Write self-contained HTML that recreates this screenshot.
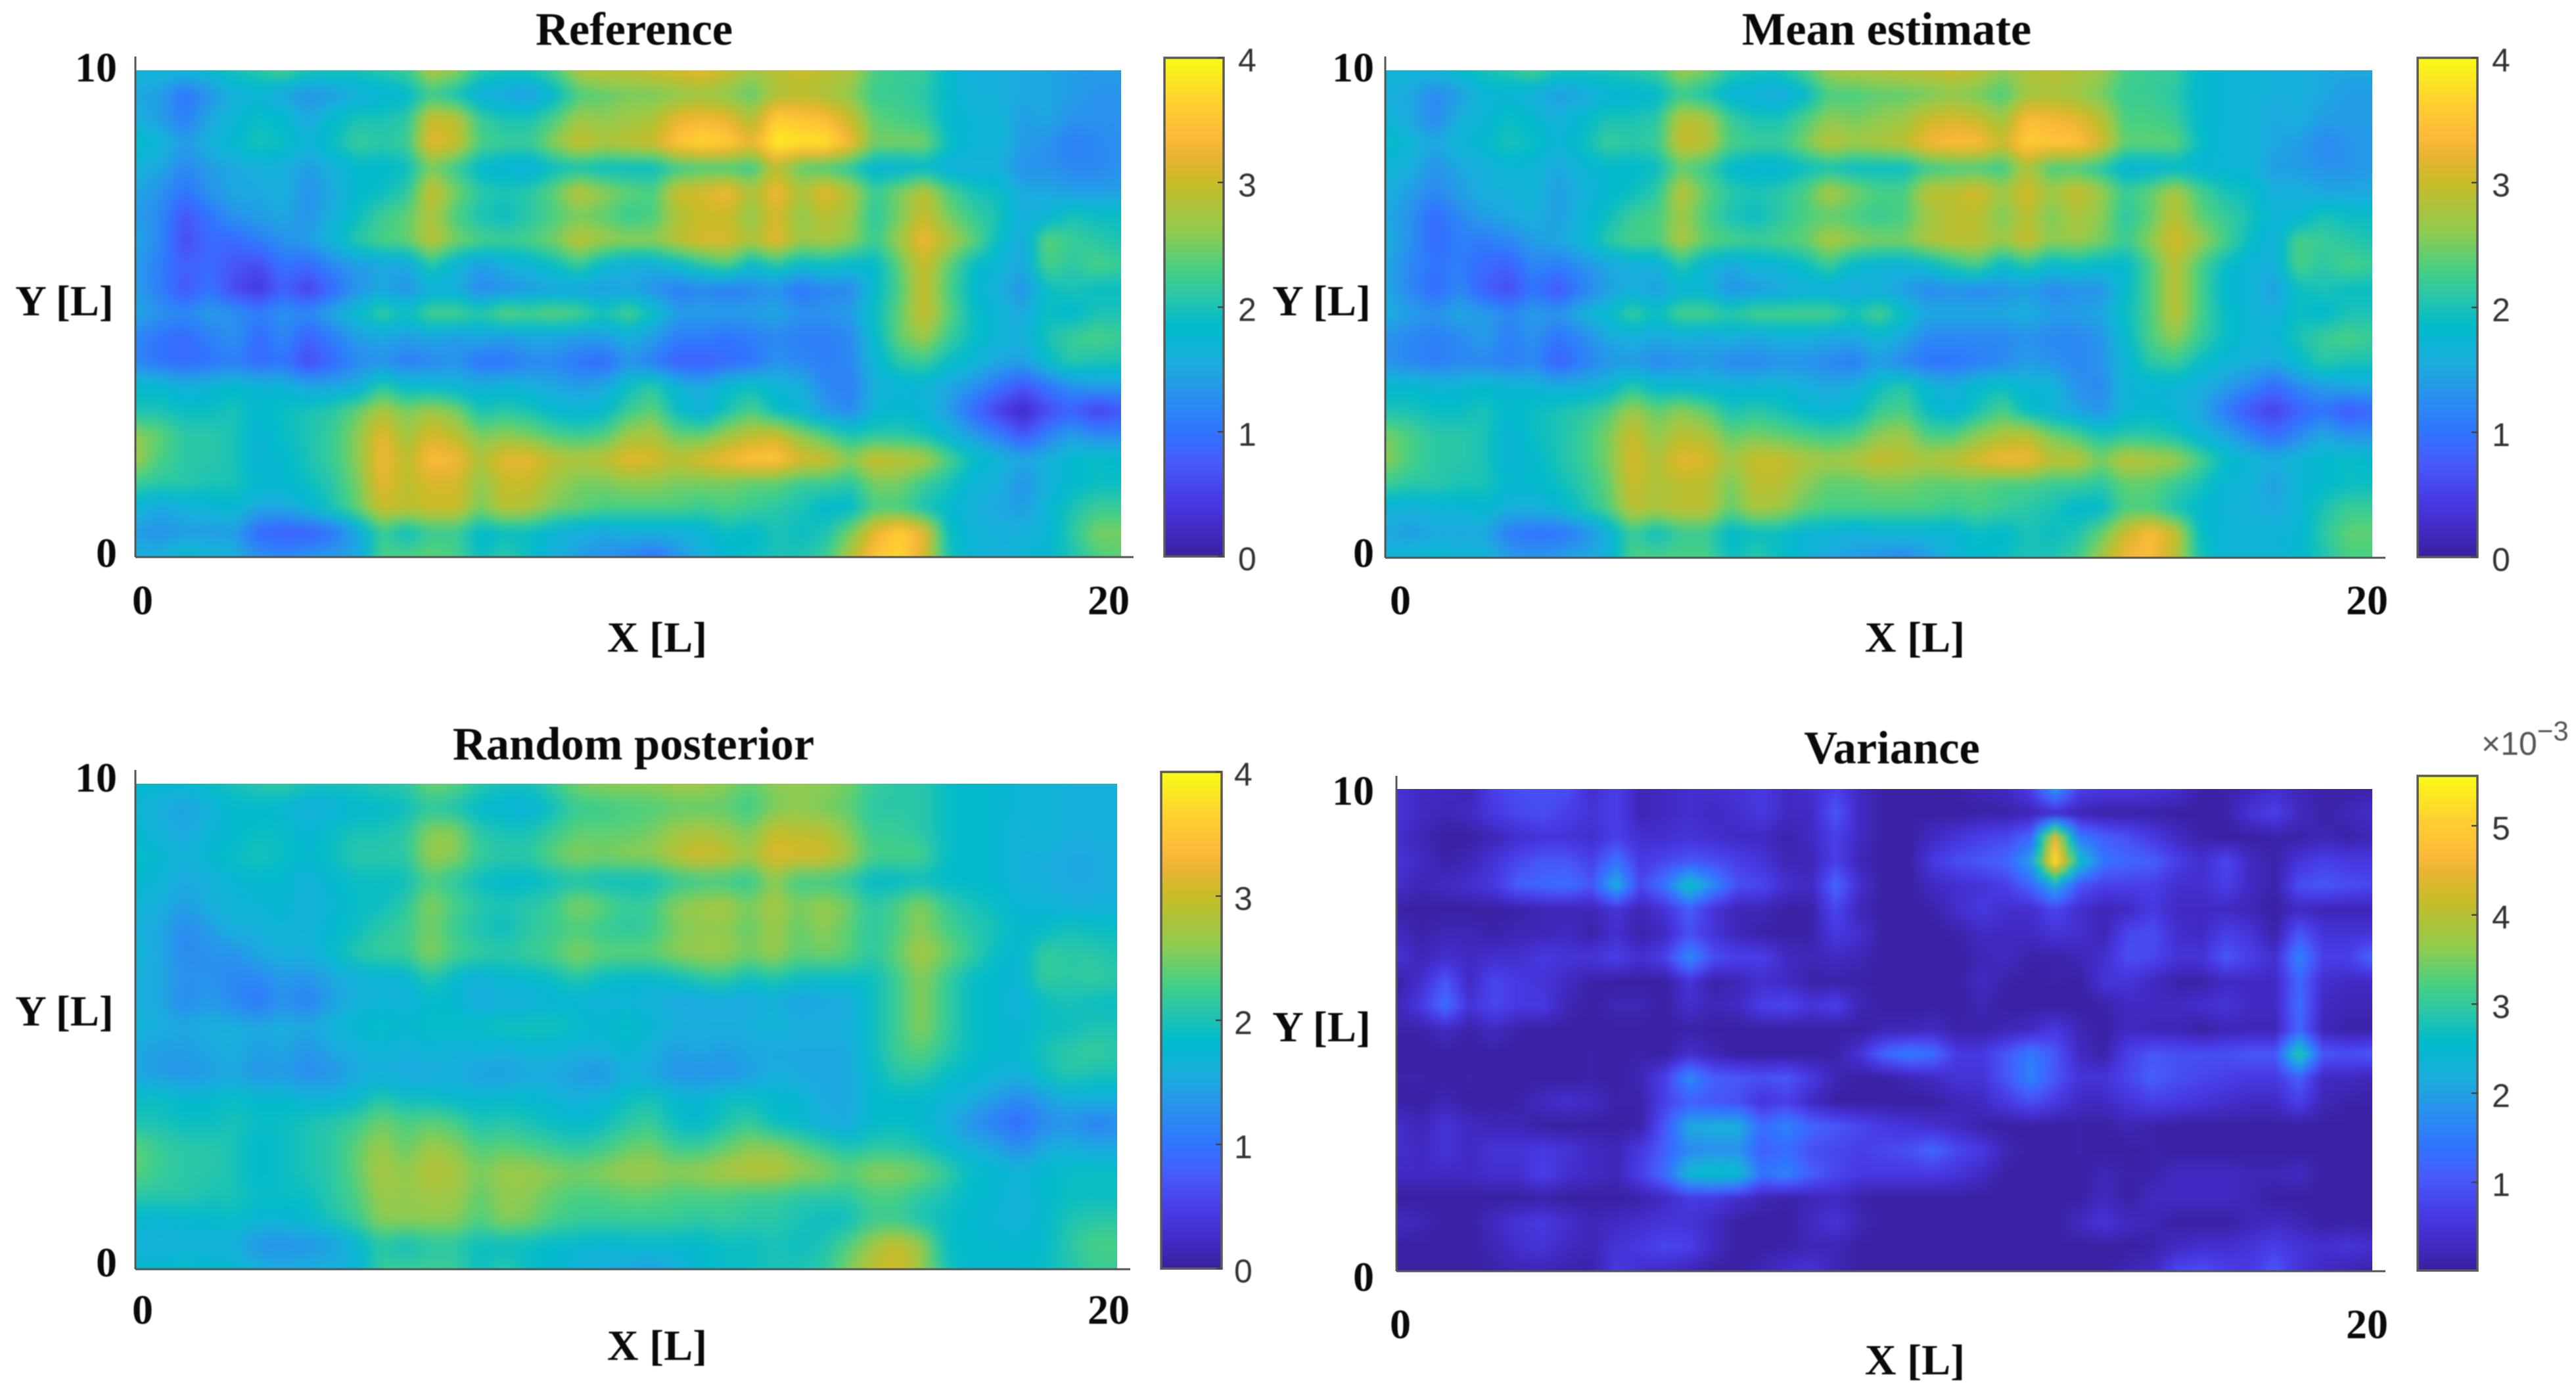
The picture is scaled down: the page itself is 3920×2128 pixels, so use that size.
<!DOCTYPE html>
<html lang="en">
<head>
<meta charset="utf-8">
<title>Reference, mean estimate, random posterior and variance fields</title>
<style>
html,body{margin:0;padding:0;background:#fff;}
body{width:3920px;height:2128px;overflow:hidden;}
svg{display:block;}
.serif{font-family:"Liberation Serif","Times New Roman",serif;font-weight:700;fill:#0a0a0a;}
.sans{font-family:"Liberation Sans",Arial,sans-serif;fill:#333;}
.soft-text text{filter:blur(0.8px);}
</style>
</head>
<body>
<svg id="chart" xmlns="http://www.w3.org/2000/svg" width="3920" height="2128" viewBox="0 0 3920 2128">
<defs>
<filter id="soft-mid" x="-5%" y="-5%" width="110%" height="110%" color-interpolation-filters="sRGB"><feGaussianBlur stdDeviation="7"/></filter>
<filter id="soft-wide" x="-5%" y="-5%" width="110%" height="110%" color-interpolation-filters="sRGB"><feGaussianBlur stdDeviation="11"/></filter>
<filter id="soft-fine" x="-5%" y="-5%" width="110%" height="110%" color-interpolation-filters="sRGB"><feGaussianBlur stdDeviation="4.5"/></filter>
</defs>
</svg>
<script>
const xDomain = [0, 20];
const yDomain = [0, 10];
const xTickValues = [0, 20];
const yTickValues = [0, 10];
const meanScaleTicks = [0, 1, 2, 3, 4];
const varianceScaleTicks = [1, 2, 3, 4, 5];
const meanScaleRange = [0, 4];
const varianceScaleRange = [0.01, 5.56];

const referenceValues = [
[1.7,1.7,1.7,1.8,2.0,2.1,2.3,2.0,2.0,2.0,2.1,2.2,2.8,2.6,2.1,2.0,2.0,2.3,2.8,2.9,2.9,3.0,3.1,3.2,3.0,2.7,2.9,3.0,2.9,2.8,2.3,2.2,2.2,1.8,1.6,1.6,1.5,1.5,1.4,1.4,1.4],
[1.5,1.4,1.0,1.3,1.6,1.7,1.5,1.3,1.4,1.6,1.7,1.8,2.2,2.0,1.6,1.5,1.4,1.8,2.3,2.4,2.5,2.5,2.6,2.7,2.6,2.4,2.8,2.9,2.8,2.6,2.2,2.2,2.1,1.8,1.6,1.6,1.5,1.5,1.4,1.3,1.3],
[1.6,1.4,1.1,1.5,1.7,1.9,1.8,1.5,1.8,2.0,2.0,2.1,3.0,2.9,2.2,2.0,2.0,2.3,2.7,2.6,2.7,2.8,3.2,3.3,3.2,2.8,3.6,3.5,3.4,3.0,2.4,2.3,2.2,1.8,1.7,1.7,1.4,1.5,1.3,1.3,1.3],
[1.9,1.7,1.4,1.6,1.8,2.0,1.9,1.7,1.9,2.2,2.1,2.2,3.2,3.0,2.3,2.2,2.2,2.6,3.0,2.8,2.9,3.0,3.5,3.7,3.6,3.2,3.9,3.8,3.8,3.3,2.5,2.5,2.5,1.9,1.7,1.7,1.4,1.3,1.1,1.2,1.3],
[1.6,1.5,1.2,1.4,1.5,1.6,1.6,1.4,1.6,1.8,1.8,1.9,2.5,2.2,1.8,1.7,1.6,1.9,2.0,1.9,1.9,1.9,2.2,2.3,2.3,2.2,2.9,2.4,2.3,2.1,1.7,1.7,1.8,1.6,1.6,1.6,1.3,1.3,1.2,1.2,1.3],
[1.5,1.3,1.0,1.3,1.5,1.5,1.6,1.3,1.5,1.8,1.9,2.1,3.0,2.5,2.1,2.0,2.1,2.4,2.9,2.6,2.4,2.3,3.0,3.1,3.3,2.8,3.3,2.8,3.2,2.8,2.2,2.5,2.9,2.3,2.0,1.9,1.5,1.5,1.4,1.4,1.4],
[1.4,1.2,0.7,1.0,1.3,1.4,1.5,1.3,1.6,1.9,2.2,2.4,2.8,2.3,2.0,1.9,2.1,2.3,2.5,2.4,2.2,2.3,2.8,3.0,3.0,2.6,3.1,2.6,2.9,2.7,2.1,2.5,3.0,2.5,2.2,2.0,1.6,1.7,2.0,1.9,1.9],
[1.5,1.2,0.6,0.9,0.9,1.1,1.3,1.4,1.7,2.1,2.3,2.4,2.9,2.5,2.3,2.2,2.3,2.5,2.9,2.7,2.6,2.6,2.9,3.1,3.1,2.8,3.2,2.7,2.8,2.6,2.2,2.7,3.3,2.8,2.4,1.9,1.5,2.4,2.2,2.1,2.0],
[1.4,1.1,0.8,0.9,0.7,0.6,1.0,0.9,1.2,1.4,1.5,1.5,2.1,1.7,1.4,1.6,1.7,1.9,2.2,1.8,1.6,1.6,1.8,2.1,2.3,1.8,2.1,1.8,1.9,1.8,1.8,2.4,3.0,2.4,1.9,1.7,1.5,2.3,2.1,2.3,2.2],
[1.4,1.1,0.7,1.0,0.6,0.4,0.8,0.5,0.9,1.3,1.5,1.3,1.6,1.6,1.2,1.3,1.4,1.5,1.5,1.4,1.5,1.3,1.1,1.2,1.1,1.2,1.3,1.0,1.2,1.2,1.8,2.3,3.0,2.3,1.8,1.6,1.3,1.9,2.0,1.9,1.9],
[1.5,1.3,1.2,1.4,1.3,1.1,1.3,1.2,1.5,1.8,2.2,1.9,2.3,2.3,2.1,2.4,2.3,2.4,2.3,2.0,2.3,1.9,1.4,1.4,1.4,1.4,1.5,1.3,1.3,1.4,1.9,2.4,3.0,2.4,1.9,1.7,1.5,1.9,1.8,2.0,2.0],
[1.2,1.0,0.9,1.1,1.3,0.9,1.2,0.8,1.1,1.4,1.5,1.4,1.5,1.4,1.5,1.4,1.5,1.5,1.4,1.4,1.6,1.4,1.1,1.1,1.0,1.1,1.2,1.1,1.1,1.2,1.8,2.4,2.7,2.2,1.9,1.7,1.6,2.0,2.2,2.3,2.2],
[1.2,1.0,0.9,1.0,1.1,0.9,1.0,0.6,0.9,1.2,1.3,1.1,1.2,1.3,1.0,1.0,1.2,1.2,1.0,0.9,1.3,1.1,0.8,0.8,0.9,1.0,1.3,1.2,1.1,1.2,1.7,2.1,2.2,1.9,1.7,1.5,1.4,1.8,2.1,2.0,2.0],
[1.8,1.8,1.6,1.7,1.8,1.7,1.7,1.5,1.5,1.6,2.1,1.8,1.8,1.7,1.6,1.7,1.6,1.5,1.4,1.5,1.9,2.1,1.7,1.5,1.8,1.9,1.7,1.6,1.2,1.1,1.6,1.7,1.7,1.5,1.3,1.0,0.7,1.0,1.3,1.4,1.4],
[2.0,2.0,1.9,1.9,2.0,1.8,1.9,2.0,2.1,2.4,2.8,2.5,2.7,2.5,2.0,2.1,2.0,1.8,1.7,1.8,2.2,2.4,1.9,1.6,2.0,2.3,1.9,1.7,1.4,1.2,1.7,1.8,1.7,1.4,0.9,0.5,0.2,0.6,0.8,0.5,0.7],
[2.6,2.4,2.1,2.1,2.0,1.7,1.9,2.0,2.2,2.6,3.2,2.7,3.1,2.9,2.5,2.6,2.5,2.3,2.2,2.3,2.7,2.8,2.4,2.4,2.7,2.9,3.0,2.6,2.3,2.0,2.1,2.1,2.0,1.7,1.4,1.1,0.7,1.1,1.4,1.2,1.2],
[2.7,2.3,2.1,2.1,2.0,1.7,1.8,2.0,2.2,2.6,3.3,2.9,3.4,3.3,2.8,3.2,3.2,2.9,2.8,2.9,3.2,3.1,2.9,3.1,3.3,3.5,3.5,3.1,3.0,2.6,3.0,2.9,2.8,2.3,1.9,1.7,1.5,1.6,1.8,1.9,1.8],
[2.2,2.1,2.1,2.0,2.0,1.8,1.8,1.9,2.1,2.5,3.2,2.9,3.1,3.1,2.6,3.0,3.0,2.7,2.5,2.5,2.6,2.6,2.5,2.5,2.5,2.4,2.4,2.2,2.2,2.1,2.5,2.5,2.2,2.0,1.7,1.6,1.3,1.6,1.8,1.9,1.9],
[1.7,1.5,1.6,1.7,1.8,1.5,1.5,1.7,2.0,2.4,3.0,2.9,3.0,3.0,2.5,2.9,2.8,2.5,2.4,2.3,2.3,2.3,2.3,2.2,2.3,2.2,2.1,2.0,1.8,1.8,2.3,2.3,2.0,1.8,1.6,1.5,1.4,1.7,2.0,2.2,2.2],
[1.4,1.3,1.4,1.4,1.4,0.9,0.8,0.8,1.0,1.5,2.2,1.9,2.2,2.2,1.8,1.9,1.9,1.7,1.6,1.5,1.6,1.6,1.6,1.7,1.9,1.8,2.0,1.9,2.0,2.5,3.2,3.6,3.2,1.9,1.7,1.6,1.6,1.7,2.1,2.5,2.5],
[1.6,1.6,1.8,1.7,1.6,1.3,1.2,1.3,1.4,1.5,2.3,2.3,2.4,2.3,1.9,2.1,1.9,1.6,1.4,1.3,1.2,1.0,1.3,1.6,1.8,1.9,2.0,2.0,2.2,2.8,3.5,3.7,3.1,2.0,1.7,1.6,1.7,1.8,2.0,2.3,2.4]
];

const meanEstimateValues = [
[1.7,1.7,1.7,1.8,2.0,2.1,2.3,2.0,2.0,2.0,2.1,2.2,2.7,2.5,2.1,2.0,2.0,2.3,2.7,2.8,2.8,2.9,2.9,3.0,2.9,2.6,2.8,2.9,2.8,2.7,2.3,2.2,2.2,1.8,1.7,1.7,1.6,1.6,1.5,1.5,1.5],
[1.6,1.5,1.2,1.4,1.7,1.7,1.6,1.4,1.5,1.7,1.7,1.8,2.2,2.0,1.7,1.6,1.5,1.8,2.3,2.3,2.4,2.4,2.5,2.6,2.5,2.3,2.7,2.8,2.7,2.5,2.2,2.2,2.1,1.8,1.7,1.7,1.6,1.6,1.5,1.4,1.4],
[1.7,1.5,1.2,1.6,1.7,1.9,1.8,1.6,1.8,2.0,2.0,2.1,2.9,2.8,2.2,2.0,2.0,2.3,2.6,2.5,2.6,2.7,3.0,3.1,3.0,2.7,3.4,3.3,3.2,2.9,2.3,2.3,2.2,1.8,1.7,1.7,1.5,1.6,1.4,1.4,1.4],
[1.9,1.7,1.5,1.7,1.8,2.0,1.9,1.7,1.9,2.2,2.1,2.2,3.0,2.9,2.3,2.2,2.2,2.5,2.9,2.7,2.8,2.9,3.3,3.4,3.4,3.0,3.6,3.5,3.5,3.1,2.4,2.4,2.4,1.9,1.7,1.7,1.5,1.4,1.2,1.3,1.4],
[1.7,1.6,1.3,1.5,1.6,1.7,1.7,1.5,1.7,1.8,1.8,1.9,2.4,2.2,1.8,1.7,1.7,1.9,2.0,1.9,1.9,1.9,2.2,2.3,2.3,2.2,2.8,2.3,2.3,2.1,1.7,1.7,1.8,1.7,1.7,1.7,1.4,1.4,1.3,1.3,1.4],
[1.6,1.4,1.2,1.4,1.6,1.6,1.7,1.4,1.6,1.8,1.9,2.1,2.9,2.4,2.1,2.0,2.1,2.3,2.8,2.5,2.3,2.3,2.9,2.9,3.1,2.7,3.1,2.7,3.0,2.7,2.2,2.4,2.8,2.3,2.0,1.9,1.6,1.6,1.5,1.5,1.5],
[1.5,1.3,0.9,1.2,1.4,1.5,1.6,1.4,1.7,1.9,2.2,2.3,2.7,2.3,2.0,1.9,2.1,2.3,2.4,2.3,2.2,2.3,2.7,2.9,2.9,2.5,2.9,2.5,2.8,2.6,2.1,2.4,2.9,2.4,2.2,2.0,1.7,1.7,2.0,1.9,1.9],
[1.6,1.3,0.9,1.1,1.1,1.2,1.4,1.5,1.7,2.1,2.3,2.3,2.8,2.4,2.3,2.2,2.3,2.4,2.8,2.6,2.5,2.5,2.8,2.9,2.9,2.7,3.0,2.6,2.7,2.5,2.2,2.6,3.1,2.7,2.3,1.9,1.6,2.3,2.2,2.1,2.0],
[1.5,1.2,1.0,1.1,0.9,0.8,1.2,1.1,1.3,1.5,1.6,1.6,2.1,1.7,1.5,1.7,1.7,1.9,2.2,1.8,1.7,1.7,1.8,2.1,2.3,1.8,2.1,1.8,1.9,1.8,1.8,2.3,2.9,2.3,1.9,1.7,1.6,2.3,2.1,2.3,2.2],
[1.5,1.2,0.9,1.2,0.8,0.6,1.0,0.7,1.1,1.4,1.6,1.4,1.7,1.7,1.3,1.4,1.5,1.6,1.6,1.5,1.6,1.4,1.2,1.3,1.2,1.3,1.4,1.2,1.3,1.3,1.8,2.3,2.9,2.3,1.8,1.7,1.4,1.9,2.0,1.9,1.9],
[1.6,1.4,1.3,1.5,1.4,1.2,1.4,1.3,1.6,1.8,2.2,1.9,2.3,2.3,2.1,2.3,2.3,2.3,2.3,2.0,2.3,1.9,1.5,1.5,1.5,1.5,1.6,1.4,1.4,1.5,1.9,2.3,2.9,2.3,1.9,1.7,1.6,1.9,1.8,2.0,2.0],
[1.3,1.2,1.1,1.2,1.4,1.1,1.3,1.0,1.2,1.5,1.6,1.5,1.6,1.5,1.6,1.5,1.6,1.6,1.5,1.5,1.7,1.5,1.2,1.2,1.2,1.2,1.3,1.2,1.2,1.3,1.8,2.3,2.6,2.2,1.9,1.7,1.7,2.0,2.2,2.3,2.2],
[1.3,1.2,1.1,1.2,1.2,1.1,1.2,0.8,1.1,1.3,1.4,1.2,1.3,1.4,1.2,1.2,1.3,1.3,1.2,1.1,1.4,1.2,1.0,1.0,1.1,1.2,1.4,1.3,1.2,1.3,1.7,2.1,2.2,1.9,1.7,1.6,1.5,1.8,2.1,2.0,2.0],
[1.8,1.8,1.7,1.7,1.8,1.7,1.7,1.6,1.6,1.7,2.1,1.8,1.8,1.7,1.7,1.7,1.7,1.6,1.5,1.6,1.9,2.1,1.7,1.6,1.8,1.9,1.7,1.7,1.3,1.2,1.7,1.7,1.7,1.6,1.4,1.2,0.9,1.2,1.4,1.5,1.5],
[2.0,2.0,1.9,1.9,2.0,1.8,1.9,2.0,2.1,2.3,2.7,2.4,2.6,2.4,2.0,2.1,2.0,1.8,1.7,1.8,2.2,2.3,1.9,1.7,2.0,2.3,1.9,1.7,1.5,1.3,1.7,1.8,1.7,1.5,1.1,0.7,0.5,0.8,1.0,0.7,0.9],
[2.5,2.3,2.1,2.1,2.0,1.7,1.9,2.0,2.2,2.5,3.0,2.6,2.9,2.8,2.4,2.5,2.4,2.3,2.2,2.3,2.6,2.7,2.3,2.3,2.6,2.8,2.9,2.5,2.3,2.0,2.1,2.1,2.0,1.7,1.5,1.2,0.9,1.2,1.5,1.3,1.3],
[2.6,2.3,2.1,2.1,2.0,1.7,1.8,2.0,2.2,2.5,3.1,2.8,3.2,3.1,2.7,3.0,3.0,2.8,2.7,2.8,3.0,2.9,2.8,2.9,3.1,3.3,3.3,2.9,2.9,2.5,2.9,2.8,2.7,2.3,1.9,1.7,1.6,1.7,1.8,1.9,1.8],
[2.2,2.1,2.1,2.0,2.0,1.8,1.8,1.9,2.1,2.4,3.0,2.8,2.9,2.9,2.5,2.9,2.9,2.6,2.4,2.4,2.5,2.5,2.4,2.4,2.4,2.3,2.3,2.2,2.2,2.1,2.4,2.4,2.2,2.0,1.7,1.7,1.4,1.7,1.8,1.9,1.9],
[1.7,1.6,1.7,1.7,1.8,1.6,1.6,1.7,2.0,2.3,2.9,2.8,2.9,2.9,2.4,2.8,2.7,2.4,2.3,2.3,2.3,2.3,2.3,2.2,2.3,2.2,2.1,2.0,1.8,1.8,2.3,2.3,2.0,1.8,1.7,1.6,1.5,1.7,2.0,2.2,2.2],
[1.5,1.4,1.5,1.5,1.5,1.1,1.0,1.0,1.2,1.6,2.2,1.9,2.2,2.2,1.8,1.9,1.9,1.7,1.7,1.6,1.7,1.7,1.7,1.7,1.9,1.8,2.0,1.9,2.0,2.4,3.0,3.4,3.0,1.9,1.7,1.7,1.7,1.7,2.1,2.4,2.4],
[1.7,1.7,1.8,1.7,1.7,1.4,1.3,1.4,1.5,1.6,2.3,2.3,2.3,2.3,1.9,2.1,1.9,1.7,1.5,1.4,1.3,1.2,1.4,1.7,1.8,1.9,2.0,2.0,2.2,2.7,3.3,3.4,2.9,2.0,1.7,1.7,1.7,1.8,2.0,2.3,2.3]
];

const randomPosteriorValues = [
[1.8,1.8,1.8,1.9,2.0,2.1,2.2,2.0,2.0,2.0,2.1,2.1,2.5,2.4,2.1,2.0,2.0,2.2,2.5,2.6,2.6,2.6,2.7,2.7,2.6,2.4,2.6,2.6,2.6,2.5,2.2,2.1,2.1,1.9,1.8,1.8,1.7,1.7,1.6,1.6,1.6],
[1.7,1.6,1.4,1.6,1.8,1.8,1.7,1.6,1.6,1.8,1.8,1.9,2.1,2.0,1.8,1.7,1.6,1.9,2.2,2.2,2.3,2.3,2.4,2.4,2.4,2.2,2.5,2.6,2.5,2.4,2.1,2.1,2.1,1.9,1.8,1.8,1.7,1.7,1.6,1.6,1.6],
[1.8,1.6,1.5,1.7,1.8,1.9,1.9,1.7,1.9,2.0,2.0,2.1,2.6,2.6,2.1,2.0,2.0,2.2,2.4,2.4,2.4,2.5,2.7,2.8,2.7,2.5,3.0,2.9,2.9,2.6,2.2,2.2,2.1,1.9,1.8,1.8,1.6,1.7,1.6,1.6,1.6],
[1.9,1.8,1.6,1.8,1.9,2.0,1.9,1.8,1.9,2.1,2.1,2.1,2.7,2.6,2.2,2.1,2.1,2.4,2.6,2.5,2.6,2.6,2.9,3.1,3.0,2.7,3.2,3.1,3.1,2.8,2.3,2.3,2.3,1.9,1.8,1.8,1.6,1.6,1.5,1.5,1.6],
[1.8,1.7,1.5,1.6,1.7,1.8,1.8,1.6,1.8,1.9,1.9,1.9,2.3,2.1,1.9,1.8,1.8,1.9,2.0,1.9,1.9,1.9,2.1,2.2,2.2,2.1,2.6,2.2,2.2,2.1,1.8,1.8,1.9,1.8,1.8,1.8,1.6,1.6,1.5,1.5,1.6],
[1.7,1.6,1.4,1.6,1.7,1.7,1.8,1.6,1.7,1.9,1.9,2.1,2.6,2.3,2.1,2.0,2.1,2.2,2.6,2.4,2.2,2.2,2.6,2.7,2.8,2.5,2.8,2.5,2.7,2.5,2.1,2.3,2.6,2.2,2.0,1.9,1.7,1.7,1.6,1.6,1.6],
[1.6,1.5,1.2,1.4,1.6,1.6,1.7,1.6,1.8,1.9,2.1,2.2,2.5,2.2,2.0,1.9,2.1,2.2,2.3,2.2,2.1,2.2,2.5,2.6,2.6,2.4,2.7,2.4,2.6,2.4,2.1,2.3,2.6,2.3,2.1,2.0,1.8,1.8,2.0,1.9,1.9],
[1.7,1.5,1.2,1.3,1.3,1.5,1.6,1.6,1.8,2.1,2.2,2.2,2.6,2.3,2.2,2.1,2.2,2.3,2.6,2.4,2.4,2.4,2.6,2.7,2.7,2.5,2.7,2.4,2.5,2.4,2.1,2.4,2.8,2.5,2.2,1.9,1.7,2.2,2.1,2.1,2.0],
[1.6,1.5,1.3,1.3,1.2,1.2,1.4,1.3,1.5,1.6,1.7,1.7,2.1,1.8,1.6,1.8,1.8,1.9,2.1,1.9,1.8,1.8,1.9,2.1,2.2,1.9,2.1,1.9,1.9,1.9,1.9,2.2,2.6,2.2,1.9,1.8,1.7,2.2,2.1,2.2,2.1],
[1.6,1.5,1.2,1.4,1.2,1.0,1.3,1.1,1.4,1.6,1.7,1.6,1.8,1.8,1.5,1.6,1.6,1.7,1.7,1.6,1.7,1.6,1.5,1.5,1.5,1.5,1.6,1.4,1.5,1.5,1.9,2.2,2.6,2.2,1.9,1.8,1.6,1.9,2.0,1.9,1.9],
[1.7,1.6,1.5,1.6,1.6,1.5,1.6,1.5,1.7,1.8,1.9,1.8,1.9,1.9,1.9,2.0,2.0,2.0,1.9,1.8,1.9,1.8,1.6,1.6,1.6,1.6,1.7,1.6,1.6,1.6,1.9,2.2,2.6,2.2,1.9,1.8,1.7,1.9,1.9,2.0,2.0],
[1.5,1.4,1.4,1.5,1.6,1.4,1.5,1.3,1.5,1.6,1.7,1.6,1.7,1.6,1.7,1.6,1.7,1.7,1.6,1.6,1.8,1.6,1.4,1.5,1.4,1.5,1.5,1.5,1.5,1.5,1.9,2.2,2.4,2.1,1.9,1.8,1.8,2.0,2.1,2.2,2.1],
[1.5,1.4,1.3,1.4,1.5,1.3,1.4,1.2,1.3,1.5,1.6,1.5,1.5,1.6,1.4,1.4,1.5,1.5,1.4,1.3,1.6,1.5,1.3,1.3,1.3,1.4,1.6,1.5,1.5,1.5,1.8,2.1,2.1,1.9,1.8,1.7,1.6,1.9,2.1,2.0,2.0],
[1.9,1.9,1.8,1.8,1.9,1.8,1.8,1.7,1.7,1.8,2.1,1.9,1.9,1.8,1.8,1.8,1.8,1.7,1.6,1.7,1.9,2.0,1.8,1.7,1.9,1.9,1.8,1.8,1.5,1.5,1.8,1.8,1.8,1.7,1.6,1.4,1.2,1.4,1.6,1.6,1.6],
[2.0,2.0,1.9,1.9,2.0,1.9,1.9,2.0,2.1,2.2,2.5,2.3,2.4,2.3,2.0,2.1,2.0,1.9,1.8,1.9,2.1,2.2,1.9,1.8,2.0,2.2,1.9,1.8,1.6,1.5,1.8,1.9,1.8,1.6,1.3,1.1,0.9,1.2,1.3,1.1,1.2],
[2.4,2.2,2.1,2.1,2.0,1.8,1.9,2.0,2.1,2.4,2.7,2.4,2.7,2.6,2.3,2.4,2.3,2.2,2.1,2.2,2.4,2.5,2.2,2.2,2.4,2.6,2.6,2.4,2.2,2.0,2.1,2.1,2.0,1.8,1.6,1.5,1.2,1.5,1.6,1.5,1.5],
[2.4,2.2,2.1,2.1,2.0,1.8,1.9,2.0,2.1,2.4,2.8,2.6,2.9,2.8,2.5,2.7,2.7,2.6,2.5,2.6,2.7,2.7,2.6,2.7,2.8,2.9,2.9,2.7,2.6,2.4,2.6,2.6,2.5,2.2,1.9,1.8,1.7,1.8,1.9,1.9,1.9],
[2.1,2.1,2.1,2.0,2.0,1.9,1.9,1.9,2.1,2.3,2.7,2.6,2.7,2.7,2.4,2.6,2.6,2.4,2.3,2.3,2.4,2.4,2.3,2.3,2.3,2.2,2.2,2.1,2.1,2.1,2.3,2.3,2.1,2.0,1.8,1.8,1.6,1.8,1.9,1.9,1.9],
[1.8,1.7,1.8,1.8,1.9,1.7,1.7,1.8,2.0,2.2,2.6,2.6,2.6,2.6,2.3,2.6,2.5,2.3,2.2,2.2,2.2,2.2,2.2,2.1,2.2,2.1,2.1,2.0,1.9,1.9,2.2,2.2,2.0,1.9,1.8,1.7,1.6,1.8,2.0,2.1,2.1],
[1.6,1.6,1.6,1.6,1.6,1.3,1.3,1.3,1.4,1.7,2.1,1.9,2.1,2.1,1.9,1.9,1.9,1.8,1.8,1.7,1.8,1.8,1.8,1.8,1.9,1.9,2.0,1.9,2.0,2.3,2.7,3.0,2.7,1.9,1.8,1.8,1.8,1.8,2.1,2.3,2.3],
[1.8,1.8,1.9,1.8,1.8,1.6,1.5,1.6,1.6,1.7,2.2,2.2,2.2,2.2,1.9,2.1,1.9,1.8,1.6,1.6,1.5,1.4,1.6,1.8,1.9,1.9,2.0,2.0,2.1,2.5,2.9,3.1,2.7,2.0,1.8,1.8,1.8,1.9,2.0,2.2,2.2]
];

const varianceValues = [
[.5,.3,.3,.2,.7,.9,.9,.9,.4,.7,.2,.3,.4,.4,.5,.6,.3,.4,.7,.3,.05,.05,.05,.1,.2,.3,.7,1.9,.7,.6,.6,.5,.4,.1,.1,.2,.4,.2,.1,.1,.1],
[.5,.3,.2,.3,.6,.8,.9,.7,.5,.7,.2,.3,.4,.3,.4,.6,.3,.3,1.0,.3,.05,.05,.05,.05,.1,.1,.2,.4,.2,.1,.1,.1,.05,.05,.1,.5,.7,.3,.1,.2,.4],
[.4,.2,.05,.05,.2,.4,.5,.5,.4,.7,.4,.4,.5,.4,.3,.3,.1,.3,.7,.3,.05,.05,.3,.5,.7,.8,1.2,4.4,1.5,1.1,.9,.6,.3,.1,.05,.05,.1,.1,.2,.1,.2],
[.5,.3,.1,.2,.5,.8,1.0,1.0,.7,1.4,.6,.8,1.0,.9,.7,.5,.2,.2,.7,.2,.05,.05,.6,.9,1.0,1.2,2.0,5.2,2.6,1.4,1.2,1.1,.7,.4,.8,.3,.1,.5,.7,.6,.6],
[.4,.2,.3,.4,.6,1.1,1.2,1.3,1.0,2.2,.8,1.4,2.6,1.7,.9,.8,.4,.3,1.2,.4,.05,.05,.3,.4,.5,.7,1.2,2.2,1.0,.7,.7,.7,.4,.4,.7,.3,.1,.9,1.0,.9,.8],
[.1,.05,.05,.05,.05,.1,.2,.2,.2,.5,.2,.5,1.1,.5,.2,.2,.05,.1,.8,.2,.05,.05,.1,.4,.6,.4,.4,.8,.4,.2,.3,.6,.3,.3,.3,.2,.05,.3,.2,.2,.2],
[.3,.1,.2,.2,.1,.2,.2,.3,.1,.4,.1,.3,.9,.5,.2,.1,.05,.1,.6,.4,.05,.05,.05,.1,.3,.3,.3,.5,.4,.2,.8,.9,.4,.3,.7,.5,.1,1.0,.5,.5,.5],
[.5,.2,.4,.3,.4,.4,.6,.5,.5,.7,.4,.7,1.7,.9,.7,.7,.3,.2,.3,.2,.05,.05,.05,.05,.2,.3,.1,.1,.2,.4,.9,.8,.5,.5,1.0,.7,.4,1.6,.7,.7,1.2],
[.05,.4,1.0,.3,.8,.6,.5,.3,.1,.05,.05,.05,.5,.1,.2,.4,.3,.1,.1,.1,.05,.05,.05,.05,.3,.1,.05,.1,.05,.5,.5,.3,.1,.1,.3,.3,.3,1.2,.4,.3,.3],
[.2,.6,1.3,.5,.8,.6,.6,.2,.05,.2,.2,.05,.4,.2,.3,.7,.8,.5,.7,.2,.05,.05,.05,.05,.2,.05,.05,.05,.05,.1,.3,.3,.3,.4,.5,.3,.3,1.3,.3,.2,.2],
[.1,.1,.3,.1,.3,.1,.05,.05,.05,.05,.05,.05,.1,.05,.05,.05,.05,.05,.05,.05,.2,.2,.3,.1,.1,.2,.3,.6,.2,.05,.3,.2,.2,.05,.2,.2,.2,1.2,.2,.1,.1],
[.05,.05,.05,.05,.05,.05,.05,.05,.1,.05,.1,.05,.4,.2,.05,.05,.05,.05,.1,.5,1.2,1.5,1.3,.6,.6,1.0,1.5,1.0,.3,.1,.7,1.0,.9,.9,.9,1.0,1.0,2.8,1.0,.9,1.0],
[.1,.1,.05,.1,.05,.05,.05,.05,.1,.05,.2,.7,1.7,1.1,1.0,.9,1.0,.6,.2,.05,.05,.2,.3,.5,.5,1.0,1.6,1.0,.5,.5,.8,1.1,.9,.8,.7,.6,.6,1.1,.3,.3,.2],
[.1,.05,.2,.05,.05,.1,.3,.4,.3,.1,.1,.7,1.1,1.0,.9,.5,.7,.3,.05,.05,.05,.05,.05,.2,.3,.6,.9,.6,.3,.3,.5,.7,.6,.5,.4,.3,.3,.7,.2,.1,.1],
[.4,.2,.5,.3,.2,.2,.05,.05,.05,.05,.1,1.0,2.1,2.2,2.2,1.3,1.6,1.2,1.0,.8,.6,.5,.4,.3,.1,.05,.05,.05,.1,.05,.2,.1,.05,.05,.05,.05,.05,.05,.05,.05,.05],
[.4,.3,.5,.3,.5,.5,.6,.5,.3,.2,.6,1.1,1.7,1.8,1.8,1.1,1.3,.9,.8,.7,.8,.9,1.2,.8,.6,.2,.05,.05,.1,.05,.05,.1,.05,.05,.05,.05,.05,.05,.05,.05,.05],
[.3,.3,.3,.3,.4,.4,.7,.4,.3,.2,.7,1.3,2.4,2.6,2.5,1.4,1.6,1.1,.8,.6,.6,.6,.6,.5,.3,.05,.05,.05,.05,.2,.1,.1,.3,.3,.3,.2,.2,.3,.05,.05,.05],
[.05,.05,.05,.05,.05,.05,.1,.05,.05,.05,.1,.3,.6,.6,.4,.2,.1,.2,.3,.1,.05,.05,.05,.05,.05,.05,.05,.05,.05,.3,.05,.3,.3,.3,.3,.2,.05,.05,.05,.05,.05],
[.3,.2,.05,.05,.3,.5,.6,.4,.2,.3,.4,.5,.5,.3,.05,.05,.05,.3,.5,.2,.05,.05,.05,.05,.05,.05,.05,.05,.3,.5,.3,.2,.05,.05,.05,.2,.3,.2,.05,.1,.05],
[.05,.05,.05,.05,.2,.4,.5,.3,.2,.5,.6,.8,.7,.3,.05,.05,.1,.2,.2,.05,.05,.05,.05,.05,.05,.05,.05,.05,.05,.05,.05,.1,.3,.4,.4,.5,.7,.5,.4,.5,.4],
[.05,.05,.05,.05,.1,.2,.2,.1,.1,.6,.4,.3,.2,.05,.05,.2,.4,.5,.2,.05,.05,.05,.05,.05,.05,.05,.05,.05,.05,.05,.2,.3,.8,.9,.7,.6,1.0,.5,.3,.2,.1]
];

const svgNS = 'http://www.w3.org/2000/svg';
const svg = document.getElementById('chart');
const defs = svg.querySelector('defs');
const cellSubdivision = 3;
const colorStops = [
  [0.00,[58,31,158]],[0.06,[66,44,200]],[0.12,[72,60,232]],[0.19,[70,92,252]],
  [0.25,[48,116,255]],[0.32,[42,144,238]],[0.39,[26,174,220]],[0.46,[0,186,204]],
  [0.52,[40,198,170]],[0.58,[74,208,128]],[0.65,[143,203,80]],[0.75,[201,188,40]],
  [0.80,[230,180,50]],[0.84,[253,185,58]],[0.91,[255,208,48]],[1.00,[249,251,21]]
];

function colorAt(t) {
  const c = Math.max(0, Math.min(1, t));
  for (let k = 1; k < colorStops.length; k++) {
    if (c <= colorStops[k][0]) {
      const a = colorStops[k - 1], b = colorStops[k];
      const f = (c - a[0]) / (b[0] - a[0]);
      const m = [0, 1, 2].map(n => Math.round(a[1][n] + (b[1][n] - a[1][n]) * f));
      return 'rgb(' + m.join(',') + ')';
    }
  }
  return 'rgb(249,251,21)';
}

function make(tag, attrs, parent) {
  const el = document.createElementNS(svgNS, tag);
  for (const k in attrs) el.setAttribute(k, attrs[k]);
  parent.appendChild(el);
  return el;
}

function addLabel(parent, cls, x, y, size, anchor, content, name) {
  const t = make('text', {class: cls, x: x, y: y, 'font-size': size, 'text-anchor': anchor}, parent);
  t.textContent = content;
  
  
  return t;
}

function sampleGrid(values, gx, gy) {
  const rows = values.length, cols = values[0].length;
  const i0 = Math.min(Math.floor(gx), cols - 1), j0 = Math.min(Math.floor(gy), rows - 1);
  const i1 = Math.min(i0 + 1, cols - 1), j1 = Math.min(j0 + 1, rows - 1);
  const fx = gx - i0, fy = gy - j0;
  const read = (r, c) => values[r][c] !== undefined ? values[r][c] : values[r][values[r].length - 1];
  const top = read(j0, i0) * (1 - fx) + read(j0, i1) * fx;
  const low = read(j1, i0) * (1 - fx) + read(j1, i1) * fx;
  return top * (1 - fy) + low * fy;
}

function drawPanel(p) {
  const group = make('g', {class: 'soft-text'}, svg);
  
  

  const xScale = v => p.left + (v - xDomain[0]) / (xDomain[1] - xDomain[0]) * (p.right - p.left);
  const yScale = v => p.bottom - (v - yDomain[0]) / (yDomain[1] - yDomain[0]) * (p.bottom - p.top);
  const colorScale = v => colorAt((v - p.range[0]) / (p.range[1] - p.range[0]));

  const clip = make('clipPath', {id: p.id + '-clip'}, defs);
  make('rect', {x: p.left, y: p.top, width: p.right - p.left, height: p.bottom - p.top}, clip);

  const clipped = make('g', {'clip-path': 'url(#' + p.id + '-clip)'}, group);
  const heat = make('g', {filter: 'url(#' + p.filter + ')', 'shape-rendering': 'crispEdges'}, clipped);
  
  

  const nRows = p.values.length;
  const nCols = p.values[0].length;
  const subRows = (nRows - 1) * cellSubdivision;
  const subCols = (nCols - 1) * cellSubdivision;
  const dx = (xDomain[1] - xDomain[0]) / subCols;
  const dy = (yDomain[1] - yDomain[0]) / subRows;
  const bleed = 60;
  for (let j = 0; j <= subRows; j++) {
    for (let i = 0; i <= subCols; i++) {
      const value = sampleGrid(p.values, i / cellSubdivision, j / cellSubdivision);
      const cx = i * dx, cy = yDomain[1] - j * dy;
      let x0 = xScale(cx - dx / 2), x1 = xScale(cx + dx / 2);
      let y0 = yScale(cy + dy / 2), y1 = yScale(cy - dy / 2);
      if (i === 0) x0 -= bleed;
      if (i === subCols) x1 += bleed;
      if (j === 0) y0 -= bleed;
      if (j === subRows) y1 += bleed;
      const cell = make('rect', {x: x0.toFixed(1), y: y0.toFixed(1), width: (x1 - x0 + 1).toFixed(1), height: (y1 - y0 + 1).toFixed(1), fill: colorScale(value)}, heat);
      
      
    }
  }

  const axisY = make('line', {x1: p.left, x2: p.left, y1: p.axisTop, y2: p.bottom + 1, stroke: '#555', 'stroke-width': 3}, group);
  
  
  const axisX = make('line', {x1: p.left, x2: p.axisRight, y1: p.bottom + 1, y2: p.bottom + 1, stroke: '#555', 'stroke-width': 3}, group);
  
  

  addLabel(group, 'serif', p.titleX, p.titleY, 70.5, 'middle', p.title, 'chart-title');
  addLabel(group, 'serif', p.xLabelX, p.xLabelY, 66, 'middle', 'X [L]', 'x-axis-title');
  addLabel(group, 'serif', p.yLabelX, p.yLabelY, 66, 'middle', 'Y [L]', 'y-axis-title');

  xTickValues.forEach((v, k) => {
    addLabel(group, 'serif', p.xTickX[k], p.xTickY, 64, 'middle', String(v), 'x-tick-label');
  });
  yTickValues.forEach((v, k) => {
    addLabel(group, 'serif', p.yTickRight, p.yTickY[k], 64, 'end', String(v), 'y-tick-label');
  });

  const gradient = make('linearGradient', {id: p.id + '-ramp', x1: 0, y1: 1, x2: 0, y2: 0}, defs);
  colorStops.forEach(s => {
    make('stop', {offset: s[0], 'stop-color': 'rgb(' + s[1].join(',') + ')'}, gradient);
  });
  const bar = make('rect', {x: p.barLeft, y: p.barTop, width: p.barRight - p.barLeft, height: p.barBottom - p.barTop, fill: 'url(#' + p.id + '-ramp)', stroke: '#5a5a5a', 'stroke-width': 3.5}, group);
  
  

  const barScale = v => p.barBottom - (v - p.range[0]) / (p.range[1] - p.range[0]) * (p.barBottom - p.barTop);
  p.ticks.forEach(v => {
    const y = barScale(v);
    const tick = make('line', {x1: p.barRight - 9, x2: p.barRight, y1: y, y2: y, stroke: '#444', 'stroke-width': 2.5}, group);
    
    
    addLabel(group, 'sans', p.barLabelX, y + 21, 50, 'start', String(v), 'colorbar-tick-label');
  });
  return group;
}

const panels = [
  {id:'reference', title:'Reference', values:referenceValues, range:meanScaleRange, ticks:meanScaleTicks, filter:'soft-mid',
   left:206,right:1706,top:107,bottom:847,axisTop:86,axisRight:1725,
   titleX:965,titleY:68,xLabelX:1000,xLabelY:992,yLabelX:98,yLabelY:480,
   xTickX:[217,1687],xTickY:935,yTickRight:178,yTickY:[863,124],
   barLeft:1772,barRight:1862,barTop:88,barBottom:847,barLabelX:1884},
  {id:'mean-estimate', title:'Mean estimate', values:meanEstimateValues, range:meanScaleRange, ticks:meanScaleTicks, filter:'soft-mid',
   left:2108,right:3610,top:107,bottom:848,axisTop:86,axisRight:3630,
   titleX:2871,titleY:68,xLabelX:2914,xLabelY:992,yLabelX:2011,yLabelY:480,
   xTickX:[2131,3602],xTickY:935,yTickRight:2091,yTickY:[863,124],
   barLeft:3679,barRight:3770,barTop:88,barBottom:848,barLabelX:3792},
  {id:'random-posterior', title:'Random posterior', values:randomPosteriorValues, range:meanScaleRange, ticks:meanScaleTicks, filter:'soft-wide',
   left:206,right:1700,top:1193,bottom:1931,axisTop:1172,axisRight:1720,
   titleX:964,titleY:1156,xLabelX:1000,xLabelY:2070,yLabelX:98,yLabelY:1561,
   xTickX:[217,1687],xTickY:2015,yTickRight:178,yTickY:[1943,1205],
   barLeft:1767,barRight:1859,barTop:1175,barBottom:1931,barLabelX:1878},
  {id:'variance', title:'Variance', values:varianceValues, range:varianceScaleRange, ticks:varianceScaleTicks, filter:'soft-fine',
   left:2125,right:3610,top:1201,bottom:1934,axisTop:1181,axisRight:3630,
   titleX:2879,titleY:1162,xLabelX:2914,xLabelY:2092,yLabelX:2011,yLabelY:1585,
   xTickX:[2131,3602],xTickY:2037,yTickRight:2091,yTickY:[1965,1225],
   barLeft:3679,barRight:3770,barTop:1181,barBottom:1934,barLabelX:3792}
];

panels.forEach(drawPanel);

const exponent = make('text', {class: 'sans', x: 3776, y: 1149, 'font-size': 50}, svg);


exponent.setAttribute('style', 'fill:#555;filter:blur(0.8px)');
const expBase = make('tspan', {}, exponent);
expBase.textContent = '\u00d710';
const expPower = make('tspan', {dy: -22, 'font-size': 42}, exponent);
expPower.textContent = '\u22123';
</script>
</body>
</html>
